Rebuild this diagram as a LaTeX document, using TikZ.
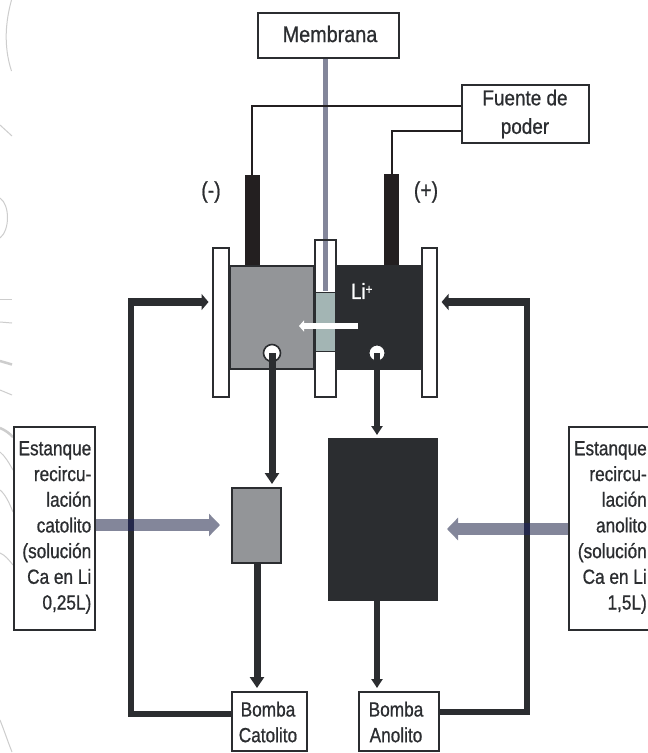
\documentclass[tikz,border=0pt]{standalone}
\usepackage{fontspec}
\setmainfont[FakeStretch=0.84,FakeBold=0.8]{Liberation Sans}
\newfontfamily\widefont[FakeStretch=0.88,FakeBold=0.8]{Liberation Sans}
\usetikzlibrary{arrows.meta}
\definecolor{ink}{HTML}{2B2D30}
\definecolor{blk}{HTML}{231F20}
\definecolor{gry}{HTML}{939598}
\definecolor{slate}{HTML}{83869A}
\definecolor{teal2}{HTML}{A3B5B4}
\definecolor{faint}{HTML}{CDCDCD}
\definecolor{cross}{HTML}{23274A}
\tikzset{
  x=1pt,y=-1pt,
  lbl/.style={font=\fontsize{20.5}{25.7}\selectfont,text=ink,inner sep=0pt},
  boxn/.style={draw=ink,line width=2.1pt,fill=white,anchor=north west,inner sep=0pt},
  pipebig/.style={draw=ink,line width=7pt,shorten >=3pt,-{Triangle[length=11pt,width=14pt]}},
  pipesmall/.style={draw=ink,line width=6pt,shorten >=3pt,-{Triangle[length=9pt,width=11pt]}},
  pipestub/.style={draw=ink,line width=8pt,shorten >=3.5pt,-{Triangle[length=7pt,width=16pt]}},
  plain/.style={draw=ink,line width=5.2pt},
  feed/.style={draw=slate,line width=12pt,-{Triangle[length=11pt,width=22pt]}},
  wire/.style={draw=blk,line width=2pt},
  sketch/.style={draw=faint,line width=1pt}
}
\begin{document}
\begin{tikzpicture}
\useasboundingbox (0,0) rectangle (648,753);
\fill[white] (0,0) rectangle (648,753);
% faint background curves
\draw[sketch] (11.5,0) .. controls (6,20) and (3,45) .. (11.5,71);
\draw[sketch] (0,125) -- (12,136);
\draw[sketch] (0,198) .. controls (10,205) and (10,230) .. (0,238);
\draw[sketch] (0,299) -- (12,299);
\draw[sketch] (0,322) -- (12,323);
\draw[sketch,line width=2.5pt] (0,361) -- (12,364.5);
\draw[sketch] (0,390) -- (12,395);
\draw[sketch,line width=2.5pt] (0,428) .. controls (5,430) and (9,433) .. (13,437);
\draw[sketch] (0,452) .. controls (5,456) and (9,463) .. (13,470);
\draw[sketch] (0,490) .. controls (5,494) and (9,502) .. (13,512);
\draw[sketch] (0,553) .. controls (5,555) and (9,560) .. (13,565);
\draw[sketch] (0,720) .. controls (4,730) and (8,742) .. (12,752);
% boxes with text
\node[boxn,minimum width=141,minimum height=45] (mem) at (257,12) {};
\node[lbl,font=\widefont\fontsize{22.5}{27}\selectfont] at (330,34) {Membrana};
\node[boxn,minimum width=127,minimum height=58] (fue) at (461,84) {};
\node[lbl,font=\widefont\fontsize{21.5}{28.5}\selectfont,align=center] at (525,114) {Fuente de\\poder};
% membrane rod
\coordinate (mbTop) at (325,291);
\draw[slate,line width=5pt] (mem.south -| mbTop) -- (mbTop);
% electrodes
\coordinate (eL) at (252,175);
\coordinate (eR) at (392,175);
% wires
\draw[wire] (eL) |- (fue.west |- 0,106);
\draw[wire] (eR) |- (fue.west |- 0,131);
\node[fill=blk,minimum width=15,minimum height=91,inner sep=0,anchor=north] (elL) at (252.5,175) {};
\node[fill=blk,minimum width=15,minimum height=92,inner sep=0,anchor=north] (elR) at (391.5,174) {};
\node[lbl,font=\fontsize{23}{27}\selectfont] at (211,192) {(-)};
\node[lbl,font=\fontsize{23}{27}\selectfont] at (426,192) {(+)};
% plates
\node[boxn,minimum width=16,minimum height=149] (pL) at (212,247) {};
\node[boxn,minimum width=15,minimum height=149] (pR) at (421,247) {};
% chambers
\node[boxn,fill=gry,minimum width=84,minimum height=103] (cL) at (229,265) {};
\node[boxn,fill=ink,minimum width=85,minimum height=103] (cR) at (335,265) {};
% central frame
\fill[white] (315,240) rectangle (335,398);
\draw[slate,line width=5pt] (325,240) -- (mbTop);
\node[boxn,fill=none,minimum width=20.5,minimum height=157] (fr) at (314,239) {};
\node[boxn,fill=teal2,line width=1pt,minimum width=20,minimum height=59] (mb) at (315,292) {};
\node[lbl,text=white,anchor=west,font=\fontsize{22}{26}\selectfont] at (351,291) {Li\raisebox{5pt}{\fontsize{14}{14}\selectfont +}};
% circles
\node[circle,draw=ink,fill=white,line width=1.6pt,minimum size=17,inner sep=0] (cc) at (272,353) {};
\node[circle,draw=ink,fill=white,line width=1pt,minimum size=16,inner sep=0] (ca) at (377,353) {};
% ion arrow
\coordinate (iT) at (358,326);
\coordinate (iH) at (299,326);
\draw[white,line width=5.5pt,-{Triangle[length=5pt,width=11pt]}] (iT) -- (iH);
% tanks
\node[boxn,fill=gry,minimum width=49,minimum height=75] (tL) at (231,487) {};
\node[boxn,fill=ink,minimum width=108,minimum height=161] (tR) at (328,438) {};
% pumps
\node[boxn,minimum width=75,minimum height=59] (bc) at (231,691) {};
\node[lbl,align=center] at (268,722) {Bomba\\Catolito};
\node[boxn,minimum width=80,minimum height=59] (ba) at (358,691) {};
\node[lbl,align=center] at (396,722) {Bomba\\Anolito};
% reservoirs
\node[boxn,minimum width=81,minimum height=203] (sL) at (13,426) {};
\node[lbl,align=right,anchor=north east] at (91.5,441) {Estanque\\recircu-\\lación\\catolito\\(solución\\Ca en Li\\0,25L)};
\node[boxn,minimum width=90,minimum height=203] (sR) at (568,426) {};
\node[lbl,align=right,anchor=north east] at (647,441) {Estanque\\recircu-\\lación\\anolito\\(solución\\Ca en Li\\1,5L)};
% circuit
\draw[pipebig] (cc.center) -- (tL.north -| cc.center);
\draw[pipesmall] (ca.center) -- (tR.north -| ca.center);
\draw[pipebig] (tL.south -| 257,0) -- (bc.north -| 257,0);
\draw[pipesmall] (tR.south -| 377,0) -- (ba.north -| 377,0);
\coordinate (cLT) at (131,298);
\coordinate (cRT) at (527,298);
\draw[plain,line cap=square] (bc.west |- 0,714) -| (cLT);
\draw[plain,line cap=square] (ba.east |- 0,712) -| (cRT);
\draw[pipestub] (cLT |- 0,302) -- (pL.west |- 0,302);
\draw[pipestub] (cRT |- 0,302) -- (pR.east |- 0,302);
% feeds
\draw[feed] (sL.east |- 0,525) -- (220,525);
\draw[feed] (sR.west |- 0,529) -- (447,529);
\fill[cross] (128.4,519) rectangle (133.6,531);
\fill[cross] (524.4,523) rectangle (529.6,535);
\end{tikzpicture}
\end{document}
